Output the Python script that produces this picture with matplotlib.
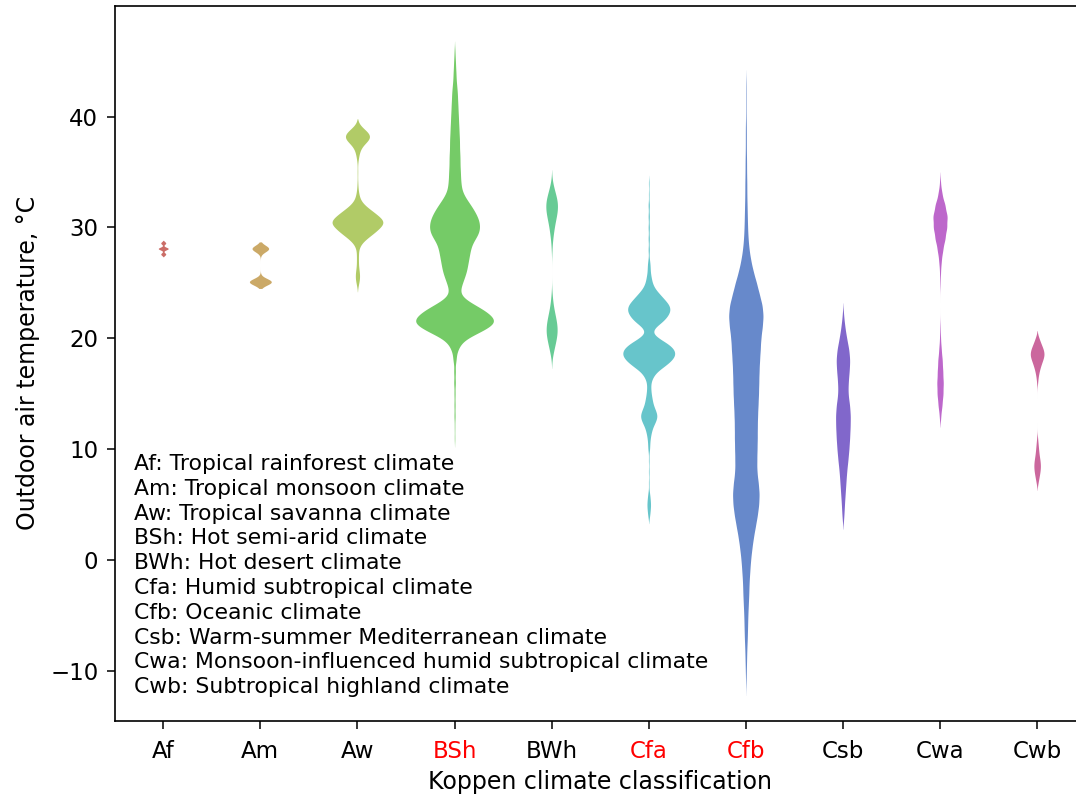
import colorsys
import matplotlib
matplotlib.use('Agg')
import matplotlib.pyplot as plt
import numpy as np

classes = ['Af', 'Am', 'Aw', 'BSh', 'BWh', 'Cfa', 'Cfb', 'Csb', 'Cwa', 'Cwb']
highlight = ['BSh', 'Cfa', 'Cfb']
descriptions = [
    'Af: Tropical rainforest climate',
    'Am: Tropical monsoon climate',
    'Aw: Tropical savanna climate',
    'BSh: Hot semi-arid climate',
    'BWh: Hot desert climate',
    'Cfa: Humid subtropical climate',
    'Cfb: Oceanic climate',
    'Csb: Warm-summer Mediterranean climate',
    'Cwa: Monsoon-influenced humid subtropical climate',
    'Cwb: Subtropical highland climate',
]

# outdoor temperature readings (deg C) and how often each was recorded
af_temp = [27.6, 28.1, 28.6]
af_count = [3, 6, 3]

am_temp = [25.1, 28.1]
am_count = [33, 25]

aw_temp = [25.0, 25.5, 26.0, 26.5, 27.0, 27.5, 28.0, 28.5, 29.0, 29.5, 30.0, 30.5,
           31.0, 31.5, 32.0, 32.5, 33.0, 33.5, 34.0, 35.0, 36.0, 36.5, 37.0, 37.5,
           38.0, 38.5, 39.0]
aw_count = [3, 5, 4, 2, 2, 2, 2, 6, 18, 34, 46, 58,
            44, 30, 14, 5, 3, 1, 1, 1, 1, 3, 5, 12,
            28, 26, 9]

bsh_temp = [11, 12, 13, 14, 15, 16, 17, 18, 18.5, 19, 19.5, 20, 20.5, 21, 21.5, 22,
            22.5, 23, 23.5, 24, 24.5, 25, 25.5, 26, 26.5, 27, 27.5, 28, 28.5, 29,
            29.5, 30, 30.5, 31, 31.5, 32, 32.5, 33, 33.5, 34, 34.5, 35, 35.5, 36,
            36.5, 37, 37.5, 38, 38.5, 39, 39.5, 40, 40.5, 41, 41.5, 42, 42.5, 43,
            43.5, 44, 44.5, 45, 45.5, 46]
bsh_count = [1, 1, 2, 2, 2, 3, 3, 4, 3, 7, 12, 24, 48, 70, 84, 76,
             62, 42, 22, 11, 12, 16, 20, 24, 26, 28, 30, 32, 35, 42,
             49, 51, 50, 46, 40, 33, 25, 18, 14, 13, 12, 12, 11, 11,
             11, 10, 10, 10, 9, 9, 8, 8, 7, 7, 6, 6, 5, 4,
             3, 3, 2, 2, 1, 1]

bwh_temp = [18.5, 19.0, 19.5, 20.0, 20.5, 21.0, 21.5, 22.0, 22.5, 23.0, 23.5, 24.0,
            28.0, 28.5, 29.0, 29.5, 30.0, 30.5, 31.0, 31.5, 32.0, 32.5, 33.0, 33.5, 34.0]
bwh_count = [2, 5, 7, 10, 12, 12, 10, 8, 5, 3, 2, 1,
             1, 1, 2, 4, 5, 7, 10, 12, 13, 12, 8, 5, 2]

cfa_temp = [4.0, 4.5, 5.0, 5.5, 6.0, 7, 8, 9, 10, 10.5, 11, 11.5, 12, 12.5, 13, 13.5,
            14, 14.5, 15, 15.5, 16, 16.5, 17, 17.5, 18, 18.5, 19, 19.5, 20, 20.5,
            21, 21.5, 22, 22.5, 23, 23.5, 24, 24.5, 25, 25.5, 26, 26.5, 27, 28, 29,
            30, 31, 32, 33, 34]
cfa_count = [2, 3, 4, 3, 2, 1, 1, 1, 2, 2, 3, 5, 8, 14, 18, 14,
             9, 7, 5, 4, 4, 8, 16, 32, 46, 54, 52, 40, 20, 6,
             12, 28, 38, 44, 42, 32, 22, 12, 7, 5, 3, 3, 2, 2, 2,
             2, 2, 2, 1, 1]

cfb_temp = [-11, -10, -9, -8, -7, -6, -5, -4, -3, -2, -1, 0, 1, 2, 3, 4, 5, 6, 7, 8,
            9, 10, 11, 12, 13, 14, 15, 16, 17, 18, 19, 20, 21, 22, 23, 24, 25, 26,
            27, 28, 29, 30, 31, 32, 33, 34, 35, 36, 37, 38, 39, 40, 41, 42, 43]
cfb_count = [1, 2, 3, 4, 6, 7, 8, 10, 12, 13, 16, 19, 24, 30, 38, 46, 52, 54, 50, 44,
             44, 45, 46, 46, 47, 49, 51, 52, 53, 55, 58, 60, 66, 70, 66, 54, 43, 30,
             20, 13, 9, 7, 6, 5, 4, 4, 3, 3, 2, 2, 2, 1, 1, 1, 1]

csb_temp = [4, 5, 6, 7, 8, 9, 10, 11, 12, 13, 14, 15, 16, 17, 18, 19, 20, 21, 22]
csb_count = [4, 6, 9, 12, 15, 20, 24, 27, 29, 30, 27, 20, 21, 25, 28, 24, 15, 8, 3]

cwa_temp = [13, 14, 15, 16, 17, 18, 19, 20, 21, 25, 26, 27, 28, 29, 30, 31, 32, 33, 34]
cwa_count = [3, 8, 12, 13, 11, 9, 5, 2, 1, 1, 2, 5, 11, 20, 27, 29, 20, 8, 2]

cwb_temp = [7.0, 7.5, 8.0, 8.5, 9.0, 9.5, 10.0, 10.5, 11.0,
            16.0, 16.5, 17.0, 17.5, 18.0, 18.5, 19.0, 19.5, 20.0]
cwb_count = [2, 4, 6, 7, 6, 4, 3, 2, 1,
             1, 2, 4, 7, 11, 15, 13, 8, 4]

temps = [af_temp, am_temp, aw_temp, bsh_temp, bwh_temp,
         cfa_temp, cfb_temp, csb_temp, cwa_temp, cwb_temp]
counts = [af_count, am_count, aw_count, bsh_count, bwh_count,
          cfa_count, cfb_count, csb_count, cwa_count, cwb_count]
bandwidth = [0.12, 0.3, 0.4, 0.4, 0.6, 0.35, 0.6, 0.6, 0.5, 0.35]


def kde(t, c, bw, cut=2, n=600):
    t = np.asarray(t, dtype=float)
    c = np.asarray(c, dtype=float)
    grid = np.linspace(t.min() - cut * bw, t.max() + cut * bw, n)
    d = (c[None, :] * np.exp(-0.5 * ((grid[:, None] - t[None, :]) / bw) ** 2)).sum(1) / bw
    return grid, d


# hls palette, desaturated like seaborn does for violins
hues = (np.linspace(0, 1, len(classes) + 1)[:-1] + 0.01) % 1
colors = [colorsys.hls_to_rgb(h, 0.6, 0.65 * 0.75) for h in hues]

curves = [kde(t, c, bw) for t, c, bw in zip(temps, counts, bandwidth)]
peak = max(d.max() for _, d in curves)

fig = plt.figure(figsize=(10.76, 7.98), dpi=100)
ax = fig.add_axes([0.1066, 0.0965, 0.9024, 0.8964])

for i, (grid, d) in enumerate(curves):
    hw = 0.4 * d / peak
    ax.fill_betweenx(grid, i - hw, i + hw, color=colors[i], linewidth=0)

ax.set_xlim(-0.5, 9.5)
ax.set_ylim(-14.5, 50)
ax.set_xticks(range(len(classes)))
ax.set_xticklabels(classes)
for lab in ax.get_xticklabels():
    if lab.get_text() in highlight:
        lab.set_color('red')
ax.set_yticks([-10, 0, 10, 20, 30, 40])
ax.tick_params(labelsize=16.5, length=5.8, width=1.1, pad=6)
ax.tick_params(axis='x', pad=8)
for s in ax.spines.values():
    s.set_linewidth(1.2)
ax.set_xlabel('Koppen climate classification', fontsize=17, labelpad=5)
ax.set_ylabel('Outdoor air temperature, °C', fontsize=17, labelpad=7)

for k, line in enumerate(descriptions):
    ax.text(0.0199, 0.3593 - k * 0.03467, line, transform=ax.transAxes,
            fontsize=15.75, va='center', ha='left')

fig.savefig('out.png', dpi=100)
